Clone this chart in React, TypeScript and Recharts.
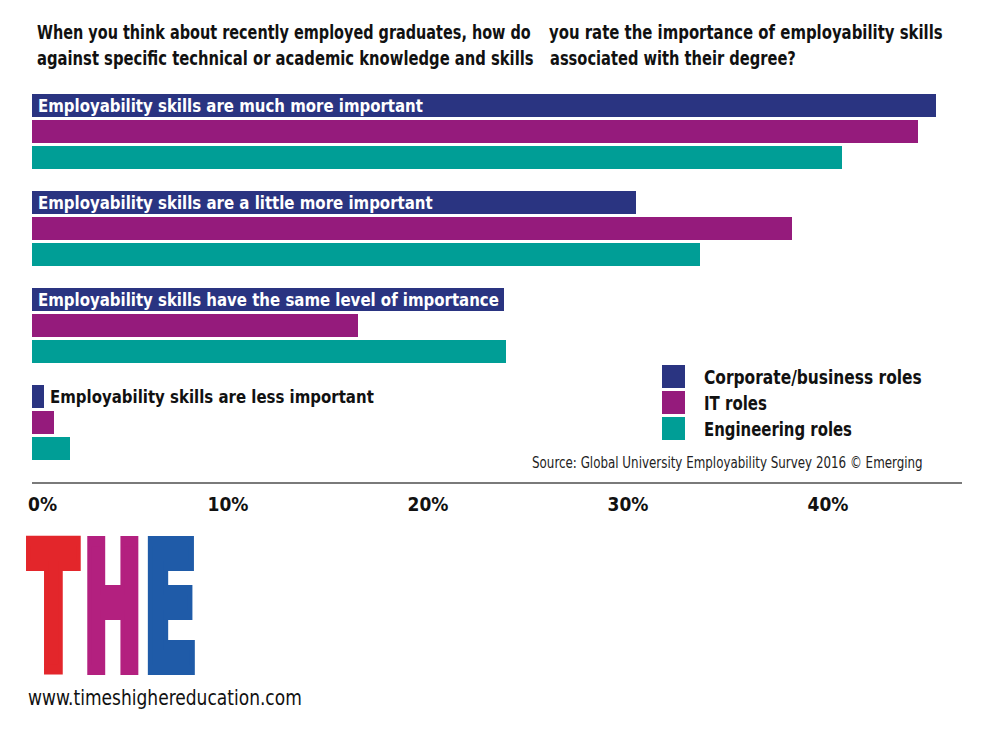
import React from "react";
import { BarChart, Bar, XAxis, YAxis, LabelList, Legend } from "recharts";

// Answer categories, top to bottom
const categories = [
  "Employability skills are much more important",
  "Employability skills are a little more important",
  "Employability skills have the same level of importance",
  "Employability skills are less important",
];

// Share of respondents (%) per role type
const corporate = [45.2, 30.2, 23.6, 0.6];
const itRoles = [44.3, 38.0, 16.3, 1.1];
const engineering = [40.5, 33.4, 23.7, 1.9];

const seriesNames = ["Corporate/business roles", "IT roles", "Engineering roles"];
const tickValues = [0, 10, 20, 30, 40];

const data = categories.map((name, i) => ({
  name,
  corporate: corporate[i],
  it: itRoles[i],
  engineering: engineering[i],
}));

const COLORS = { corporate: "#2a3481", it: "#951b7c", engineering: "#009e96" };
const NARROW = "'DejaVu Sans Condensed', 'Liberation Sans Narrow', 'Arial Narrow', sans-serif";

// rendered widths of the category captions and legend entries
const captionWidths = [385, 395, 461, 324];
const legendWidths: Record<string, number> = {
  "Corporate/business roles": 218,
  "IT roles": 63,
  "Engineering roles": 148,
};

// canvas-based measurement so condensed text can be squeezed to an exact width
let measureCtx: CanvasRenderingContext2D | null = null;
function textWidth(str: string, weight: number, size: number): number {
  if (!measureCtx && typeof document !== "undefined") {
    measureCtx = document.createElement("canvas").getContext("2d");
  }
  if (!measureCtx) return 0;
  measureCtx.font = `${weight} ${size}px ${NARROW}`;
  return measureCtx.measureText(str).width;
}

type FitProps = {
  x: number;
  y: number;
  width: number;
  size: number;
  weight?: number;
  fill?: string;
  children: string;
};

const FitText = ({ x, y, width, size, weight = 400, fill = "#111", children }: FitProps) => {
  const natural = textWidth(children, weight, size);
  const sx = natural > 0 ? width / natural : 1;
  return (
    <text
      transform={`translate(${x},${y}) scale(${sx},1)`}
      fontFamily={NARROW}
      fontWeight={weight}
      fontSize={size}
      fill={fill}
    >
      {children}
    </text>
  );
};

const CategoryLabel = (props: any) => {
  const { x, y, width, height, value, index } = props;
  const inside = index < 3;
  const tx = inside ? x + 6 : x + width + 6;
  return (
    <FitText
      x={tx}
      y={y + height / 2 + 6.5}
      width={captionWidths[index]}
      size={18}
      weight={700}
      fill={inside ? "#ffffff" : "#111111"}
    >
      {String(value)}
    </FitText>
  );
};

const AxisTick = (props: any) => {
  const { x, y, payload } = props;
  const isZero = payload.value === 0;
  return (
    <text
      x={x - 4}
      y={y + 28}
      textAnchor={isZero ? "start" : "middle"}
      fontFamily={NARROW}
      fontWeight={700}
      fontSize={19}
      fill="#111"
    >
      {`${payload.value}%`}
    </text>
  );
};

// Legend rows follow the series order: corporate, IT, engineering
const LegendContent = (props: any) => {
  const payload: any[] = props.payload || [];
  const colorOf = (name: string) => {
    const hit = payload.find((p) => p.value === name);
    return hit ? hit.color : "#999";
  };
  return (
    <svg width={300} height={80}>
      {seriesNames.map((name, i) => (
        <g key={name}>
          <rect x={0} y={i * 26} width={23} height={23} fill={colorOf(name)} />
          <FitText x={42} y={i * 26 + 19} width={legendWidths[name]} size={20} weight={700}>
            {name}
          </FitText>
        </g>
      ))}
    </svg>
  );
};

const LogoLetter = ({ ch, x, sx, color }: { ch: string; x: number; sx: number; color: string }) => (
  <text
    transform={`translate(${x},670) scale(${sx},1)`}
    fontFamily="'DejaVu Sans Condensed', 'DejaVu Sans', sans-serif"
    fontWeight={700}
    fontSize={176}
    fill={color}
    stroke={color}
    strokeWidth={10}
    strokeLinejoin="miter"
  >
    {ch}
  </text>
);

export default function App() {
  return (
    <div style={{ position: "absolute", left: 0, top: 0, width: 1000, height: 733, background: "#fff" }}>
      <BarChart
        width={1000}
        height={733}
        data={data}
        layout="vertical"
        margin={{ top: 83, right: 38, bottom: 210, left: 32 }}
        barSize={23}
        barGap={3}
      >
        <XAxis
          type="number"
          domain={[0, 46.5]}
          ticks={tickValues}
          allowDataOverflow
          axisLine={{ stroke: "#7a7a7a", strokeWidth: 2 }}
          tickLine={false}
          tickSize={0}
          tickMargin={0}
          height={40}
          tick={<AxisTick />}
        />
        <YAxis type="category" dataKey="name" hide padding={{ top: 0, bottom: 12 }} />
        <Legend
          layout="horizontal"
          verticalAlign="middle"
          align="center"
          wrapperStyle={{ left: 662, top: 365, width: 300, height: 80 }}
          content={<LegendContent />}
        />
        <Bar dataKey="corporate" name={seriesNames[0]} fill={COLORS.corporate} isAnimationActive={false}>
          <LabelList dataKey="name" content={<CategoryLabel />} />
        </Bar>
        <Bar dataKey="it" name={seriesNames[1]} fill={COLORS.it} isAnimationActive={false} />
        <Bar dataKey="engineering" name={seriesNames[2]} fill={COLORS.engineering} isAnimationActive={false} />
      </BarChart>

      <svg
        width={1000}
        height={733}
        style={{ position: "absolute", left: 0, top: 0, pointerEvents: "none" }}
      >
        <FitText x={37} y={39} width={494} size={19} weight={700}>
          When you think about recently employed graduates, how do
        </FitText>
        <FitText x={549} y={39} width={394} size={19} weight={700}>
          you rate the importance of employability skills
        </FitText>
        <FitText x={37} y={65} width={497} size={19} weight={700}>
          against specific technical or academic knowledge and skills
        </FitText>
        <FitText x={550} y={65} width={246} size={19} weight={700}>
          associated with their degree?
        </FitText>

        <FitText x={532} y={468} width={391} size={16} fill="#222">
          Source: Global University Employability Survey 2016 © Emerging
        </FitText>

        <LogoLetter ch="T" x={28} sx={0.47} color="#e3262b" />
        <LogoLetter ch="H" x={83} sx={0.45} color="#b3207f" />
        <LogoLetter ch="E" x={143} sx={0.51} color="#1f5ba8" />

        <FitText x={28} y={705} width={274} size={21}>
          www.timeshighereducation.com
        </FitText>
      </svg>
    </div>
  );
}
